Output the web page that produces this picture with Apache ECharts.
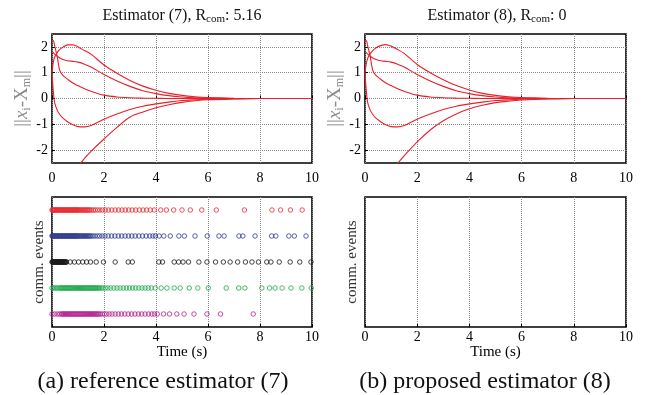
<!DOCTYPE html>
<html>
<head>
<meta charset="utf-8">
<script src="https://cdn.jsdelivr.net/npm/echarts@6/dist/echarts.min.js"></script>
<style>
  html, body { margin: 0; background: #fff; }
  #chart { width: 656px; height: 395px; }
</style>
</head>
<body>
<div id="chart"></div>
<script>
// time samples for the error curves
const T = [0, 0.05, 0.1, 0.2, 0.3, 0.4, 0.6, 0.8, 1.0, 1.25, 1.5, 2, 2.5, 3, 3.5, 4, 4.5, 5, 5.5, 6, 7, 8, 9, 10]

// estimator (7)
const e7a = [1.0, 1.4, 1.6, 1.78, 1.9, 1.98, 2.08, 2.08, 2.0, 1.86, 1.72, 1.3, 0.98, 0.7, 0.48, 0.32, 0.2, 0.12, 0.07, 0.04, 0.01, 0, 0, 0]
const e7b = [1.83, 1.78, 1.72, 1.64, 1.57, 1.52, 1.46, 1.44, 1.41, 1.33, 1.22, 0.93, 0.68, 0.47, 0.3, 0.19, 0.11, 0.06, 0.03, 0.02, 0, 0, 0, 0]
const e7c = [2.2, 2.25, 2.05, 1.62, 1.08, 0.92, 0.75, 0.6, 0.5, 0.38, 0.28, 0.13, 0.06, 0.03, 0.015, 0.008, 0, 0, 0, 0, 0, 0, 0, 0]
const e7d = [1.0, 0.3, -0.15, -0.45, -0.62, -0.74, -0.9, -1.02, -1.09, -1.1, -1.05, -0.8, -0.6, -0.43, -0.3, -0.21, -0.14, -0.08, -0.05, -0.03, -0.01, 0, 0, 0]
const e7e = [-3.9, -3.85, -3.8, -3.7, -3.6, -3.45, -3.2, -2.95, -2.65, -2.32, -2.05, -1.57, -1.12, -0.72, -0.52, -0.36, -0.24, -0.15, -0.09, -0.05, -0.02, 0, 0, 0]

// estimator (8)
const e8a = [1.0, 1.35, 1.55, 1.74, 1.86, 1.95, 2.05, 2.09, 2.03, 1.9, 1.75, 1.32, 1.0, 0.73, 0.5, 0.33, 0.2, 0.12, 0.07, 0.04, 0.01, 0, 0, 0]
const e8e = [-4.1, -4.05, -4.0, -3.9, -3.8, -3.65, -3.4, -3.15, -2.88, -2.52, -2.22, -1.68, -1.22, -0.86, -0.6, -0.4, -0.26, -0.16, -0.1, -0.06, -0.02, 0, 0, 0]

// communication event times, estimator (7)
const evRed = [0, 0.03, 0.06, 0.09, 0.12, 0.15, 0.18, 0.21, 0.24, 0.27, 0.3, 0.33, 0.36, 0.39, 0.42, 0.45, 0.48, 0.51, 0.54, 0.57,
  0.6, 0.63, 0.66, 0.69, 0.72, 0.75, 0.78, 0.81, 0.84, 0.87, 0.9, 0.93, 0.96, 0.99, 1.02, 1.06, 1.1, 1.14, 1.18, 1.22,
  1.26, 1.3, 1.34, 1.38, 1.42, 1.46, 1.52, 1.59, 1.66, 1.75, 1.84, 1.94, 2.05, 2.17, 2.3, 2.43, 2.56, 2.69, 2.82, 2.95,
  3.08, 3.22, 3.36, 3.5, 3.64, 3.78, 3.93,
  4.18, 4.4, 4.68, 5.0, 5.32, 5.76, 6.32, 7.4, 8.46, 8.79, 9.17, 9.62]
const evBlue = [0, 0.02, 0.05, 0.08, 0.11, 0.14, 0.17, 0.2, 0.23, 0.26, 0.29, 0.32, 0.35, 0.38, 0.41, 0.44, 0.47, 0.5, 0.53, 0.56,
  0.59, 0.62, 0.65, 0.68, 0.71, 0.74, 0.77, 0.8, 0.83, 0.86, 0.89, 0.92, 0.95, 0.98, 1.01, 1.05, 1.09, 1.13, 1.17, 1.21,
  1.25, 1.29, 1.33, 1.37, 1.41, 1.45, 1.5, 1.57, 1.65, 1.74, 1.83, 1.93, 2.04, 2.16, 2.29, 2.42, 2.55, 2.68, 2.81, 2.94,
  3.07, 3.2, 3.34, 3.48, 3.62, 3.76, 3.88, 3.98,
  4.12, 4.3, 4.55, 4.88, 5.09, 5.5, 5.97, 6.42, 6.62, 7.19, 7.34, 7.81, 8.45, 8.61, 9.11, 9.32, 9.77]
const evBlack = [0, 0.02, 0.04, 0.06, 0.08, 0.1, 0.12, 0.14, 0.16, 0.18, 0.2, 0.22, 0.24, 0.26, 0.28, 0.3, 0.32, 0.34, 0.36, 0.38,
  0.4, 0.42, 0.44, 0.46, 0.48, 0.5, 0.52, 0.54, 0.56,
  0.7, 0.86, 1.02, 1.18, 1.33, 1.48, 1.7, 1.98, 2.43, 2.93, 3.09, 4.11, 4.25, 4.7, 4.87, 5.04, 5.25, 5.65, 5.96,
  6.29, 6.59, 6.85, 7.14, 7.44, 7.69, 7.94, 8.26, 8.42, 8.74, 9.16, 9.53, 9.96]
const evGreen = [0, 0.06, 0.12, 0.18, 0.24, 0.3, 0.34, 0.38, 0.42, 0.46, 0.5, 0.54, 0.58, 0.62, 0.66, 0.7, 0.74, 0.78, 0.82, 0.86,
  0.9, 0.94, 0.98, 1.02, 1.06, 1.1, 1.14, 1.18, 1.22, 1.26, 1.3, 1.34, 1.38, 1.42, 1.46, 1.5, 1.54, 1.58, 1.62, 1.66,
  1.7, 1.74, 1.78, 1.83, 1.89, 1.96, 2.05, 2.15, 2.26, 2.38, 2.5, 2.62, 2.74, 2.86, 2.98, 3.1, 3.22, 3.34, 3.46, 3.58,
  3.7, 3.82, 3.97,
  4.2, 4.42, 4.7, 4.93, 5.28, 5.61, 6.01, 6.7, 7.18, 7.42, 8.07, 8.37, 8.58, 8.85, 9.19, 9.61, 9.97]
const evMagenta = [0, 0.1, 0.2, 0.29, 0.36, 0.4, 0.44, 0.48, 0.52, 0.56, 0.6, 0.64, 0.68, 0.72, 0.76, 0.8, 0.84, 0.88, 0.92, 0.96,
  1.0, 1.04, 1.08, 1.12, 1.16, 1.2, 1.24, 1.28, 1.32, 1.36, 1.4, 1.44, 1.48, 1.52, 1.56, 1.6, 1.64, 1.68, 1.72, 1.76,
  1.8, 1.86, 1.93, 2.01, 2.1, 2.2, 2.31, 2.43, 2.55, 2.67, 2.8, 2.93, 3.06, 3.19, 3.32, 3.45, 3.58, 3.71, 3.84, 3.94,
  4.05, 4.29, 4.52, 4.8, 5.08, 5.46, 5.96, 6.48, 7.74]

const yTicks = [-2, -1, 0, 1, 2]

const SERIF = 'Liberation Serif'
const LINE_RED = '#e8202a'

const pairs = (xs, ys) => xs.map((x, i) => [x, ys[i]])
const row = (ts, level) => ts.map(t => [t, level])

const grids = [
  { left: 52, top: 34, width: 260, height: 129 },
  { left: 365, top: 34, width: 261, height: 129 },
  { left: 52, top: 197, width: 260, height: 130 },
  { left: 365, top: 197, width: 261, height: 130 }
].map(g => Object.assign(g, { show: true, borderColor: '#000', borderWidth: 1.6, backgroundColor: '#fff' }))

function xAxis(gridIndex, margin, withName) {
  return {
    type: 'value', gridIndex, min: 0, max: 10, interval: 2,
    name: withName ? 'Time (s)' : '', nameLocation: 'middle', nameGap: 15,
    nameTextStyle: { fontFamily: SERIF, fontSize: 15, color: '#000' },
    axisLine: { show: false },
    axisTick: { inside: true, length: 3, lineStyle: { color: '#000' } },
    axisLabel: { fontFamily: SERIF, fontSize: 14, color: '#000', margin },
    splitLine: { show: true, lineStyle: { type: 'dotted', color: '#8a8a8a', width: 1 } }
  }
}

const yRich = {
  a: { fontFamily: SERIF, fontSize: 19, color: '#8c8c8c' },
  i: { fontFamily: SERIF, fontSize: 19, fontStyle: 'italic', color: '#8c8c8c' },
  s: { fontFamily: SERIF, fontSize: 12, color: '#8c8c8c', padding: [8, 0, 0, 0] }
}

function yTop(gridIndex, nameGap) {
  return {
    type: 'value', gridIndex, min: -2.5, max: 2.5,
    name: '{a|||}{i|x}{s|i}{a|-X}{s|m}{a|||}', nameLocation: 'middle', nameGap, nameRotate: 90,
    nameTextStyle: { rich: yRich },
    axisLine: { show: false },
    axisTick: { inside: true, length: 3, customValues: yTicks, lineStyle: { color: '#000' } },
    axisLabel: { fontFamily: SERIF, fontSize: 14, color: '#000', margin: 4, customValues: yTicks },
    splitLine: { show: true, lineStyle: { type: 'dotted', color: '#8a8a8a', width: 1 } }
  }
}

function yBottom(gridIndex, nameGap) {
  return {
    type: 'value', gridIndex, min: 0.5, max: 5.5,
    name: 'comm. events', nameLocation: 'middle', nameGap, nameRotate: 90,
    nameTextStyle: { fontFamily: SERIF, fontSize: 15, color: '#333' },
    axisLine: { show: false }, axisTick: { show: false },
    axisLabel: { show: false }, splitLine: { show: false }
  }
}

const lineSeries = (data, axis) => ({
  type: 'line', data, xAxisIndex: axis, yAxisIndex: axis,
  smooth: 0.3, showSymbol: false, clip: true, silent: true,
  lineStyle: { color: LINE_RED, width: 1.1 }
})

const eventSeries = (ts, level, color) => ({
  type: 'scatter', data: row(ts, level), xAxisIndex: 2, yAxisIndex: 2,
  symbol: 'circle', symbolSize: 4.5, silent: true,
  itemStyle: { color: 'rgba(0,0,0,0)', borderColor: color, borderWidth: 1 }
})

const titleRich = {
  a: { fontFamily: SERIF, fontSize: 16, fill: '#111' },
  s: { fontFamily: SERIF, fontSize: 11, fill: '#111', padding: [6, 0, 0, 0] }
}

const chart = echarts.init(document.getElementById('chart'), null, { renderer: 'canvas' })
chart.setOption({
  animation: false,
  backgroundColor: '#fff',
  grid: grids,
  xAxis: [xAxis(0, 8, false), xAxis(1, 8, false), xAxis(2, 3, true), xAxis(3, 3, true)],
  yAxis: [yTop(0, 16), yTop(1, 17), yBottom(2, 5), yBottom(3, 5)],
  series: [
    lineSeries(pairs(T, e7a), 0),
    lineSeries(pairs(T, e7b), 0),
    lineSeries(pairs(T, e7c), 0),
    lineSeries(pairs(T, e7d), 0),
    lineSeries(pairs(T, e7e), 0),
    lineSeries(pairs(T, e8a), 1),
    lineSeries(pairs(T, e7b), 1),
    lineSeries(pairs(T, e7c), 1),
    lineSeries(pairs(T, e7d), 1),
    lineSeries(pairs(T, e8e), 1),
    eventSeries(evRed, 5, '#ea2a2f'),
    eventSeries(evBlue, 4, '#2f3b8f'),
    eventSeries(evBlack, 3, '#1a1a1a'),
    eventSeries(evGreen, 2, '#1ea84e'),
    eventSeries(evMagenta, 1, '#b3238f')
  ],
  graphic: [
    { type: 'text', x: 182, y: 16, style: { text: '{a|Estimator (7), R}{s|com}{a|: 5.16}', align: 'center', verticalAlign: 'middle', rich: titleRich } },
    { type: 'text', x: 497, y: 16, style: { text: '{a|Estimator (8), R}{s|com}{a|: 0}', align: 'center', verticalAlign: 'middle', rich: titleRich } },
    { type: 'text', x: 163, y: 382, style: { text: '(a) reference estimator (7)', align: 'center', verticalAlign: 'middle',
      font: '24px "Liberation Serif"', fill: '#111' } },
    { type: 'text', x: 485, y: 382, style: { text: '(b) proposed estimator (8)', align: 'center', verticalAlign: 'middle',
      font: '24px "Liberation Serif"', fill: '#111' } }
  ]
})
</script>
</body>
</html>
